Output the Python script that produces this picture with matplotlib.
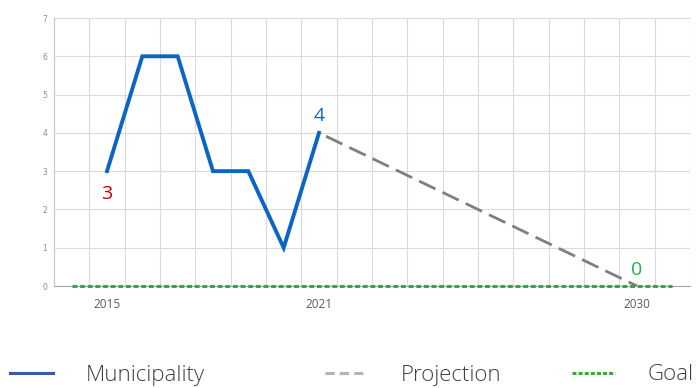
import matplotlib
matplotlib.use("Agg")
import matplotlib.pyplot as plt
from matplotlib.lines import Line2D

# ---------------------------------------------------------
# Data
# ---------------------------------------------------------
years = list(range(2014, 2032))
shown_years = [2015, 2021, 2030]

muni_years = [2015, 2016, 2017, 2018, 2019, 2020, 2021]
muni_values = [3, 6, 6, 3, 3, 1, 4]

proj_years = [2021, 2030]
proj_values = [4, 0]

goal_years = [2014, 2031]
goal_values = [0, 0]

BLUE = "#0b66c3"
GRAY = "#7f7f7f"
GREEN = "#22b04b"
RED = "#c00000"

fig = plt.figure(figsize=(6.98, 3.88), dpi=100)
ax = fig.add_axes([54 / 698, 1 - 286 / 388, (690 - 54) / 698, (286 - 18) / 388])


def pos(y):
    return years.index(y)


ax.plot([pos(y) for y in goal_years], goal_values, color=GREEN, lw=2.2,
        linestyle=(0, (1.6, 0.9)), zorder=5, clip_on=False)

# projection starts slightly after the last observed point
x0, x1 = pos(proj_years[0]), pos(proj_years[1])
gap = 0.2
slope = (proj_values[1] - proj_values[0]) / (x1 - x0)
ax.plot([x0 + gap, x1], [proj_values[0] + slope * gap, proj_values[1]],
        color=GRAY, lw=2.0, linestyle=(0, (6.5, 2.8)), zorder=4)

ax.plot([pos(y) for y in muni_years], muni_values, color=BLUE, lw=2.8,
        solid_joinstyle="miter", zorder=4)

# value labels
ax.text(pos(2015), 2.4, "3", color=RED, fontsize=14, ha="center", va="center",
        family="Open Sans")
ax.text(pos(2021), 4.45, "4", color=BLUE, fontsize=14, ha="center", va="center",
        family="Open Sans")
ax.text(pos(2030), 0.43, "0", color=GREEN, fontsize=14, ha="center", va="center",
        family="Open Sans")

# axes styling
ax.set_xlim(-0.5, len(years) - 0.5)
ax.set_ylim(0, 7)
ax.set_xticks([i - 0.5 for i in range(len(years) + 1)], minor=True)
ax.set_xticks([pos(y) for y in shown_years])
ax.set_xticklabels([str(y) for y in shown_years], fontsize=8.5, color="#595959",
                   family="Open Sans")
ax.set_yticks(range(8))
ax.tick_params(axis="y", labelsize=5.5, labelcolor="#8c8c8c", length=0, pad=5)
ax.tick_params(axis="x", which="both", length=0, pad=9)
ax.grid(True, which="minor", axis="x", color="#dadada", lw=0.8)
ax.grid(True, which="major", axis="y", color="#dadada", lw=0.8)
for side in ["top", "right"]:
    ax.spines[side].set_visible(False)
ax.spines["left"].set_color("#c8c8c8")
ax.spines["bottom"].set_color("#a6a6a6")
ax.spines["left"].set_linewidth(0.8)
ax.spines["bottom"].set_linewidth(0.8)
ax.set_axisbelow(True)

# legend, placed item by item
legend_items = [
    ("Municipality", Line2D([], [], color="#3a5ca8", lw=2.2), 10 / 698),
    ("Projection", Line2D([], [], color="#b4b4b4", lw=2.2, linestyle=(0, (3, 1.7))), 325 / 698),
    ("Goal", Line2D([], [], color="#3aa935", lw=2.2, linestyle=(0, (1.3, 0.7))), 572 / 698),
]
for label, handle, x in legend_items:
    fig.legend([handle], [label], loc="center left", bbox_to_anchor=(x, 1 - 375 / 388),
               frameon=False, handlelength=1.95, handletextpad=1.45, borderpad=0,
               borderaxespad=0, prop={"family": "Open Sans", "size": 16, "weight": "light"},
               labelcolor="#404040")

fig.savefig("out.png", dpi=100)
